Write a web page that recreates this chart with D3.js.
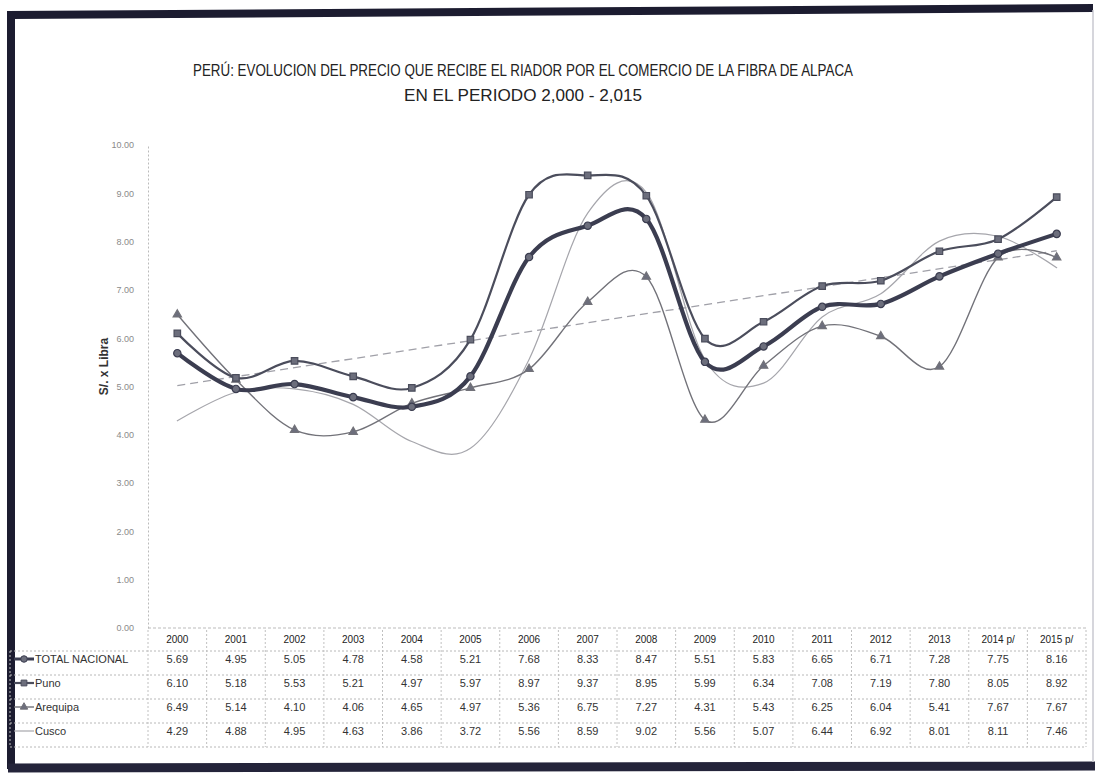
<!DOCTYPE html>
<html><head><meta charset="utf-8">
<script src="https://cdn.jsdelivr.net/npm/d3@7/dist/d3.min.js"></script>
<style>body{margin:0;background:#fff}svg{display:block}</style>
</head><body>
<svg id="chart" width="1097" height="773"></svg>
<script>
// ---- data ----
const years = ["2000","2001","2002","2003","2004","2005","2006","2007","2008","2009","2010","2011","2012","2013","2014 p/","2015 p/"];
const totalNacional = [5.69,4.95,5.05,4.78,4.58,5.21,7.68,8.33,8.47,5.51,5.83,6.65,6.71,7.28,7.75,8.16];
const puno          = [6.10,5.18,5.53,5.21,4.97,5.97,8.97,9.37,8.95,5.99,6.34,7.08,7.19,7.80,8.05,8.92];
const arequipa      = [6.49,5.14,4.10,4.06,4.65,4.97,5.36,6.75,7.27,4.31,5.43,6.25,6.04,5.41,7.67,7.67];
const cusco         = [4.29,4.88,4.95,4.63,3.86,3.72,5.56,8.59,9.02,5.56,5.07,6.44,6.92,8.01,8.11,7.46];
const seriesNames = ["TOTAL NACIONAL","Puno","Arequipa","Cusco"];
const yTicks = [0,1,2,3,4,5,6,7,8,9,10];
const titleLines = ["PERÚ: EVOLUCION DEL PRECIO QUE RECIBE EL RIADOR POR EL COMERCIO DE LA FIBRA DE ALPACA","EN EL PERIODO 2,000 - 2,015"];
const yLabel = "S/. x Libra";

// ---- setup ----
const svg = d3.select("#chart");
const FONT = "'Liberation Sans','DejaVu Sans Condensed',sans-serif";
const plot = {left:148, right:1086, top:145, bottom:628};
const x = d3.scaleBand().domain(years).range([plot.left, plot.right]);
const y = d3.scaleLinear().domain([0,10]).range([plot.bottom, plot.top]);
const cx = d => x(d) + x.bandwidth()/2;

const seriesData = [totalNacional, puno, arequipa, cusco];
const styles = [
  {color:"#3b3d50", width:4.2, marker:"circle", size:42},
  {color:"#4b4d5c", width:2.2, marker:"square", size:42},
  {color:"#727279", width:1.4, marker:"triangle", size:30},
  {color:"#a6a6ac", width:1.2, marker:null, size:0}
];
const symMap = {circle:d3.symbolCircle, square:d3.symbolSquare, triangle:d3.symbolTriangle};

// frame
svg.append("path").attr("d","M11,769 L11,15 L1093,8").attr("fill","none").attr("stroke","#1c1c30").attr("stroke-width",8);
svg.append("path").attr("d","M8,768 L1095,766").attr("fill","none").attr("stroke","#24243a").attr("stroke-width",9);
svg.append("line").attr("x1",1093).attr("y1",10).attr("x2",1093).attr("y2",762).attr("stroke","#c8c8d0").attr("stroke-width",1.5);

// title
const tl = [660, 238];
svg.append("g").selectAll("text").data(titleLines).join("text")
  .attr("x",523).attr("y",(d,i)=>76+i*25).attr("text-anchor","middle")
  .attr("font-family",FONT).attr("font-size",16).attr("fill","#222")
  .attr("textLength",(d,i)=>tl[i]).attr("lengthAdjust","spacingAndGlyphs")
  .text(d=>d);

// y axis
const yAxis = d3.axisLeft(y).tickValues(yTicks).tickFormat(d3.format(".2f")).tickSize(0).tickPadding(14);
const gy = svg.append("g").attr("transform",`translate(${plot.left},0)`).call(yAxis);
gy.select(".domain").attr("stroke","#bbb").attr("stroke-dasharray","2,2");
gy.selectAll("text").attr("font-family",FONT).attr("font-size",9).attr("fill","#8a8a8a");

// x axis line
svg.append("line").attr("x1",plot.left).attr("x2",plot.right).attr("y1",plot.bottom).attr("y2",plot.bottom)
  .attr("stroke","#bbb").attr("stroke-dasharray","3,2");

// y label
svg.append("text").attr("transform",`translate(108,${(plot.top+plot.bottom)/2 - 20}) rotate(-90)`)
  .attr("text-anchor","middle").attr("font-family","'Liberation Sans',sans-serif").attr("font-weight","bold")
  .attr("font-size",12).attr("fill","#333").text(yLabel);

// trend line (linear regression of TOTAL NACIONAL)
const idx = totalNacional.map((d,i)=>i);
const mx = d3.mean(idx), my = d3.mean(totalNacional);
const slope = d3.sum(idx,(i)=>(i-mx)*(totalNacional[i]-my)) / d3.sum(idx,i=>(i-mx)*(i-mx));
const icpt = my - slope*mx;
svg.append("line")
  .attr("x1",cx(years[0])).attr("y1",y(icpt))
  .attr("x2",cx(years[years.length-1])).attr("y2",y(icpt+slope*(years.length-1)))
  .attr("stroke","#a0a0a8").attr("stroke-width",1.3).attr("stroke-dasharray","8,5");

// lines (draw back to front)
const line = d3.line().x((d,i)=>cx(years[i])).y(d=>y(d)).curve(d3.curveCardinal.tension(0));
const order = [3,2,1,0];
order.forEach(k=>{
  const s = styles[k];
  svg.append("path").datum(seriesData[k]).attr("d",line)
    .attr("fill","none").attr("stroke",s.color).attr("stroke-width",s.width)
    .attr("stroke-linejoin","round").attr("stroke-linecap","round");
  if (s.marker){
    svg.append("g").selectAll("path").data(seriesData[k]).join("path")
      .attr("transform",(d,i)=>`translate(${cx(years[i])},${y(d)})`)
      .attr("d",d3.symbol().type(symMap[s.marker]).size(s.size))
      .attr("fill","#6c6e7c").attr("stroke",s.color).attr("stroke-width",1.2);
  }
});

// ---- data table ----
const tbl = {left:10, top:630, rowH:24};
const tg = svg.append("g");
[1,2,3,4,5].forEach(r=>{
  tg.append("line").attr("x1",tbl.left).attr("x2",plot.right).attr("y1",tbl.top+r*tbl.rowH - 3).attr("y2",tbl.top+r*tbl.rowH - 3)
    .attr("stroke","#b8b8b8").attr("stroke-dasharray","2,2");
});
years.forEach((yr,i)=>{
  tg.append("line").attr("x1",x(yr)).attr("x2",x(yr)).attr("y1",tbl.top).attr("y2",tbl.top+5*tbl.rowH-3)
    .attr("stroke","#c0c0c0").attr("stroke-dasharray","2,2");
});
tg.append("line").attr("x1",plot.right).attr("x2",plot.right).attr("y1",tbl.top).attr("y2",tbl.top+5*tbl.rowH-3)
  .attr("stroke","#c0c0c0").attr("stroke-dasharray","2,2");
tg.append("line").attr("x1",tbl.left).attr("x2",tbl.left).attr("y1",tbl.top+tbl.rowH-3).attr("y2",tbl.top+5*tbl.rowH-3)
  .attr("stroke","#c0c0c0").attr("stroke-dasharray","2,2");

tg.selectAll("text.hdr").data(years).join("text").attr("class","hdr")
  .attr("x",d=>cx(d)).attr("y",tbl.top+13).attr("text-anchor","middle")
  .attr("font-family",FONT).attr("font-size",10).attr("fill","#222").text(d=>d);

seriesData.forEach((vals,k)=>{
  const ry = tbl.top + (k+1)*tbl.rowH + 9;
  const s = styles[k];
  tg.append("line").attr("x1",14).attr("x2",34).attr("y1",ry-4).attr("y2",ry-4)
    .attr("stroke",s.color).attr("stroke-width",Math.min(s.width,3));
  if (s.marker){
    tg.append("path").attr("transform",`translate(24,${ry-4})`)
      .attr("d",d3.symbol().type(symMap[s.marker]).size(s.size*0.8))
      .attr("fill","#6c6e7c").attr("stroke",s.color);
  }
  tg.append("text").attr("x",35).attr("y",ry).attr("font-family",FONT).attr("font-size",11)
    .attr("fill","#333").text(seriesNames[k]);
  tg.selectAll(null).data(vals).join("text")
    .attr("x",(d,i)=>cx(years[i])).attr("y",ry).attr("text-anchor","middle")
    .attr("font-family",FONT).attr("font-size",11).attr("fill","#333").text(d=>d.toFixed(2));
});
</script>
</body></html>
